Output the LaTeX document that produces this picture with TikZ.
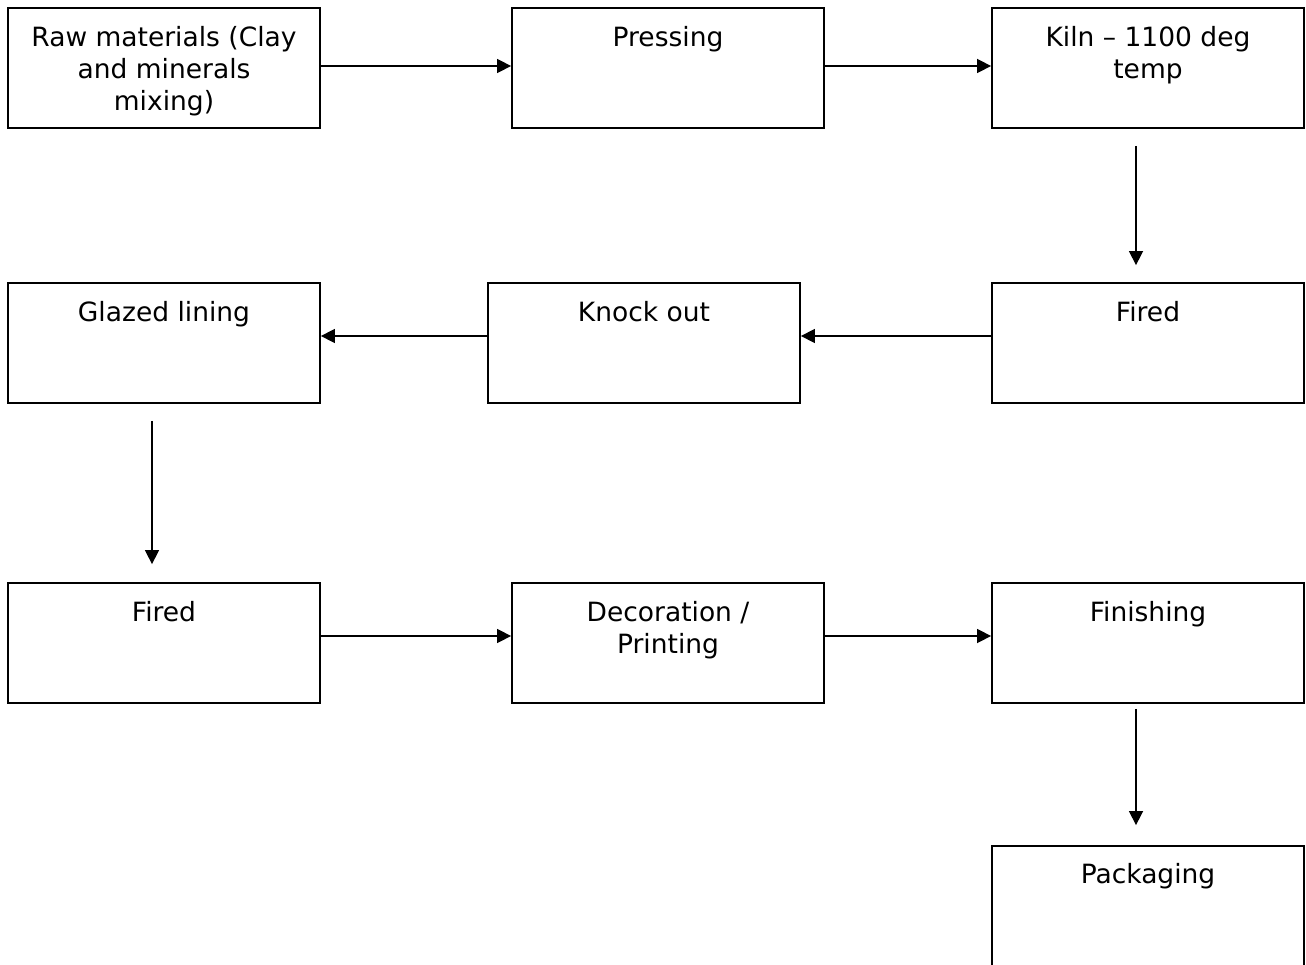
\documentclass[tikz,border=0pt]{standalone}
\usepackage{fontspec}
\setmainfont{DejaVu Sans}
\usetikzlibrary{arrows.meta}
\begin{document}
\begin{tikzpicture}[x=1pt,y=1pt,
  stepbox/.style={draw=black, line width=1.8pt, minimum width=312pt, minimum height=120pt, inner sep=0pt},
  label/.style={anchor=base, align=center, inner sep=0pt, font=\fontsize{26.5}{32}\selectfont},
  flow/.style={line width=1.5pt, -{Triangle[length=14pt,width=14pt]}}]
\useasboundingbox (0,0) rectangle (1306,-965);
\node[stepbox] (raw) at (164,-68) {};
\node[stepbox] (press) at (668,-68) {};
\node[stepbox] (kiln) at (1148,-68) {};
\node[stepbox] (glazed) at (164,-343) {};
\node[stepbox] (knock) at (644,-343) {};
\node[stepbox] (firedA) at (1148,-343) {};
\node[stepbox] (firedB) at (164,-643) {};
\node[stepbox] (deco) at (668,-643) {};
\node[stepbox] (finish) at (1148,-643) {};
\node[stepbox] (pack) at (1148,-906) {};
% multi-line nodes: base anchor is at the last line
\node[label] (traw) at ([yshift=-103pt]raw.north) {Raw materials (Clay\\and minerals\\mixing)};
\node[label] (tpress) at ([yshift=-39pt]press.north) {Pressing};
\node[label] (tkiln) at ([yshift=-71pt]kiln.north) {Kiln – 1100 deg\\temp};
\node[label] (tglazed) at ([yshift=-39pt]glazed.north) {Glazed lining};
\node[label] (tknock) at ([yshift=-39pt]knock.north) {Knock out};
\node[label] (tfiredA) at ([yshift=-39pt]firedA.north) {Fired};
\node[label] (tfiredB) at ([yshift=-39pt]firedB.north) {Fired};
\node[label] (tdeco) at ([yshift=-71pt]deco.north) {Decoration /\\Printing};
\node[label] (tfinish) at ([yshift=-39pt]finish.north) {Finishing};
\node[label] (tpack) at ([yshift=-38pt]pack.north) {Packaging};
\draw[flow] ([yshift=2pt]raw.east) -- ([yshift=2pt]press.west);
\draw[flow] ([yshift=2pt]press.east) -- ([yshift=2pt]kiln.west);
\draw[flow] ([xshift=-12pt,yshift=-17pt]kiln.south) -- ([xshift=-12pt,yshift=17pt]firedA.north);
\draw[flow] ([yshift=7pt]firedA.west) -- ([yshift=7pt]knock.east);
\draw[flow] ([yshift=7pt]knock.west) -- ([yshift=7pt]glazed.east);
\draw[flow] ([xshift=-12pt,yshift=-17pt]glazed.south) -- ([xshift=-12pt,yshift=18pt]firedB.north);
\draw[flow] ([yshift=7pt]firedB.east) -- ([yshift=7pt]deco.west);
\draw[flow] ([yshift=7pt]deco.east) -- ([yshift=7pt]finish.west);
\draw[flow] ([xshift=-12pt,yshift=-5pt]finish.south) -- ([xshift=-12pt,yshift=20pt]pack.north);
\end{tikzpicture}
\end{document}
